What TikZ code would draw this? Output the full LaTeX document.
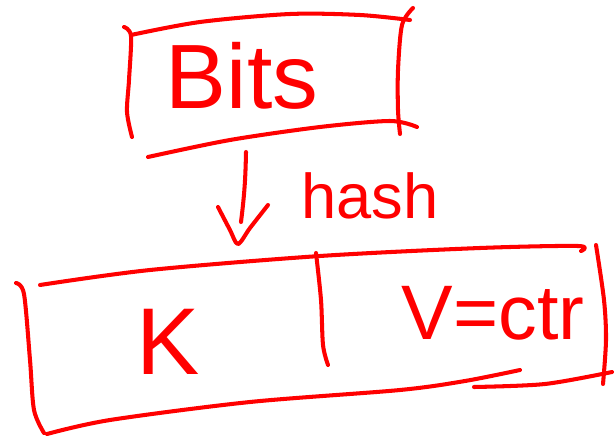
\documentclass[tikz,border=0pt]{standalone}
\usepackage{fontspec}
\setmainfont{Liberation Sans}
\usepackage{tikz}
\usetikzlibrary{positioning,calc}

\definecolor{pen}{RGB}{255,0,0}

\begin{document}
\begin{tikzpicture}[x=0.02cm, y=-0.02cm,
  stroke/.style={draw=pen, line width=2.3pt, line cap=round, line join=round},
  word/.style={text=pen, inner sep=0pt, anchor=center},
]
  \useasboundingbox (0,0) rectangle (615,439);

  % --- input box ------------------------------------------------------
  \draw[stroke] plot[smooth] coordinates {(124,27) (131,36) (129,80) (127,112) (132,137)};
  \draw[stroke] plot[smooth] coordinates {(131,35) (200,22) (290,14) (360,15) (410,20)};
  \draw[stroke] plot[smooth] coordinates {(413,8) (402,25) (398,70) (398,110) (400,134)};
  \draw[stroke] plot[smooth] coordinates {(148,157) (230,140) (320,127) (390,121) (417,127)};
  \node[word, font=\fontsize{52}{52}\selectfont] (bits) at (242,76) {Bits};

  % --- hash arrow -----------------------------------------------------
  \coordinate (shafttop) at (246,152);
  \coordinate (shaftend) at (241,222);
  \coordinate (tip) at (238,244);
  \draw[stroke] (shafttop) to[bend left=3] (shaftend);
  \draw[stroke] plot[smooth] coordinates {(218,207) (230,230) (238,244) (250,228) (268,205)};
  \node[word, font=\fontsize{36}{36}\selectfont] (hashlbl) at (370,196) {hash};

  % --- key/value table ------------------------------------------------
  \draw[stroke] plot[smooth] coordinates {(16,283) (24,294) (30,360) (34,410) (44,433)};
  \draw[stroke] plot[smooth] coordinates {(40,285) (150,270) (320,256) (480,248) (578,246) (581,251)};
  \draw[stroke] plot[smooth] coordinates {(596,245) (604,300) (606,340) (603,384)};
  \draw[stroke] plot[smooth] coordinates {(316,253) (321,300) (323,345) (328,365)};
  \draw[stroke] plot[smooth] coordinates {(47,434) (110,420) (250,402) (400,390) (465,381) (520,370)};
  \draw[stroke] plot[smooth] coordinates {(474,387) (545,384) (612,372)};
  \node[word, font=\fontsize{54}{54}\selectfont] (key) at (168,342) {K};
  \node[word, font=\fontsize{44}{44}\selectfont] (val) at (493,313) {V=ctr};
\end{tikzpicture}
\end{document}
